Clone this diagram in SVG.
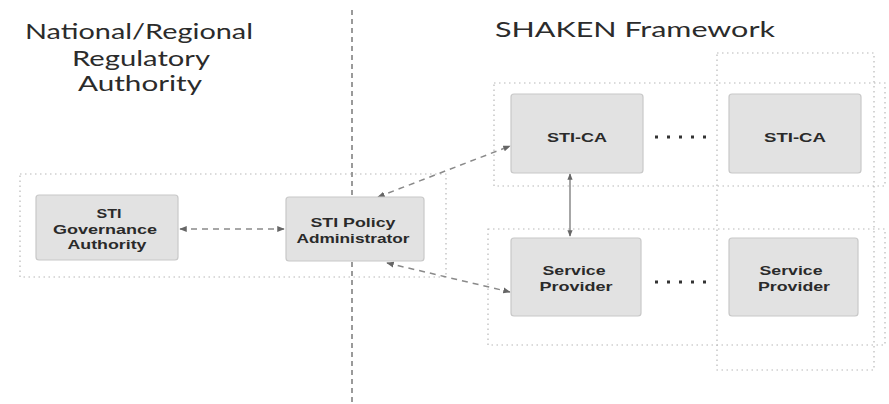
<svg xmlns="http://www.w3.org/2000/svg" width="889" height="404" viewBox="0 0 889 404">
<style>
.title{font-family:Lato,"Open Sans","Liberation Sans",sans-serif;font-size:21px;fill:#2b2b2b;text-anchor:middle}
.box{fill:#e2e2e2;stroke:#c8c8c8;stroke-width:1.2}
.lbl{font-family:"Liberation Sans",Arial,sans-serif;font-weight:bold;font-size:13px;fill:#2a2a2a;text-anchor:middle}
.grp{fill:none;stroke:#b8b8b8;stroke-width:1.2;stroke-dasharray:1.5 3.5}
.dash{fill:none;stroke:#8a8a8a;stroke-width:1.5;stroke-dasharray:6 5}
.solid{fill:none;stroke:#777;stroke-width:1.3}
.dots{fill:none;stroke:#333;stroke-width:3;stroke-dasharray:3 9}
</style>
<defs>
<marker id="ah" viewBox="0 0 10 10" refX="9" refY="5" markerWidth="5" markerHeight="5" orient="auto-start-reverse">
<path d="M0,1 L10,5 L0,9 z" fill="#666"/>
</marker>
</defs>
<rect width="889" height="404" fill="#fff"/>
<g id="titles">
<text class="title" x="139" y="39" textLength="228" lengthAdjust="spacingAndGlyphs">National/Regional</text>
<text class="title" x="141" y="66" textLength="138" lengthAdjust="spacingAndGlyphs">Regulatory</text>
<text class="title" x="140" y="91" textLength="124" lengthAdjust="spacingAndGlyphs">Authority</text>
<text class="title" x="635" y="37" textLength="280" lengthAdjust="spacingAndGlyphs">SHAKEN Framework</text>
</g>
<g id="groups">
<rect class="grp" x="20" y="174" width="426" height="103"/>
<rect class="grp" x="494" y="83" width="391" height="103"/>
<rect class="grp" x="488" y="229" width="397" height="116"/>
<rect class="grp" x="717" y="53" width="157" height="317"/>
</g>
<g id="divider">
<line x1="352" y1="10" x2="352" y2="404" stroke="#9a9a9a" stroke-width="2" stroke-dasharray="5 4"/>
</g>
<g id="connectors">
<line class="dash" x1="180" y1="229" x2="284" y2="229" marker-start="url(#ah)" marker-end="url(#ah)"/>
<line class="dash" x1="378" y1="197" x2="510" y2="146" marker-start="url(#ah)" marker-end="url(#ah)"/>
<line class="dash" x1="387" y1="263" x2="510" y2="292" marker-start="url(#ah)" marker-end="url(#ah)"/>
<line class="solid" x1="570" y1="174" x2="570" y2="236" marker-start="url(#ah)" marker-end="url(#ah)"/>
<line class="dots" x1="655" y1="137" x2="712" y2="137"/>
<line class="dots" x1="655" y1="282" x2="712" y2="282"/>
</g>
<g id="gov">
<rect class="box" x="36" y="195" width="142" height="65" rx="3"/>
<text class="lbl" x="109" y="218" textLength="25" lengthAdjust="spacingAndGlyphs">STI</text>
<text class="lbl" x="105" y="234" textLength="104" lengthAdjust="spacingAndGlyphs">Governance</text>
<text class="lbl" x="107" y="249" textLength="79" lengthAdjust="spacingAndGlyphs">Authority</text>
</g>
<g id="policy">
<rect class="box" x="286" y="197" width="138" height="64" rx="3"/>
<text class="lbl" x="353" y="227" textLength="85" lengthAdjust="spacingAndGlyphs">STI Policy</text>
<text class="lbl" x="353" y="243" textLength="113" lengthAdjust="spacingAndGlyphs">Administrator</text>
</g>
<g id="ca1">
<rect class="box" x="511" y="94" width="132" height="79" rx="3"/>
<text class="lbl" x="577" y="142" textLength="60" lengthAdjust="spacingAndGlyphs">STI-CA</text>
</g>
<g id="ca2">
<rect class="box" x="729" y="94" width="132" height="79" rx="3"/>
<text class="lbl" x="795" y="142" textLength="62" lengthAdjust="spacingAndGlyphs">STI-CA</text>
</g>
<g id="sp1">
<rect class="box" x="511" y="238" width="130" height="78" rx="3"/>
<text class="lbl" x="574" y="275" textLength="63" lengthAdjust="spacingAndGlyphs">Service</text>
<text class="lbl" x="576" y="291" textLength="73" lengthAdjust="spacingAndGlyphs">Provider</text>
</g>
<g id="sp2">
<rect class="box" x="729" y="238" width="129" height="78" rx="3"/>
<text class="lbl" x="791" y="275" textLength="63" lengthAdjust="spacingAndGlyphs">Service</text>
<text class="lbl" x="794" y="291" textLength="72" lengthAdjust="spacingAndGlyphs">Provider</text>
</g>
</svg>
